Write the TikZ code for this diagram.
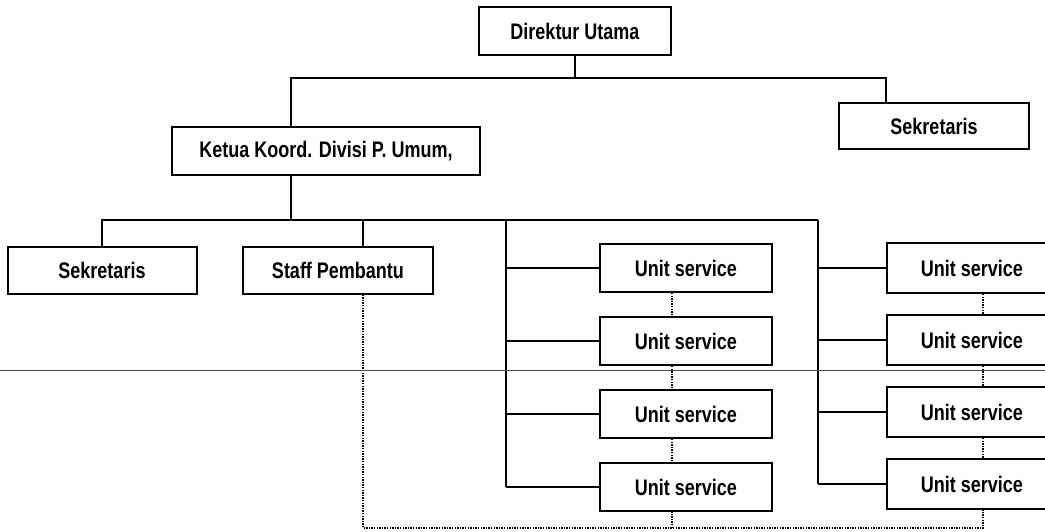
\documentclass[tikz,border=0pt]{standalone}
\usepackage{fontspec}
\setmainfont{Liberation Sans}[FakeStretch=0.80]
\usetikzlibrary{positioning}

\tikzset{
  box/.style    = {draw, line width=2pt, fill=white, inner sep=0pt,
                   font=\fontsize{22.5}{26}\selectfont\bfseries},
  unitbox/.style= {box, minimum width=172pt, minimum height=48pt},
  link/.style   = {line width=2pt},
  dotline/.style= {line width=1.8pt, dash pattern=on 1.4pt off 1.2pt},
  scanline/.style={line width=0.9pt, black!70}
}

\begin{document}
\begin{tikzpicture}[x=1pt, y=-1pt]
  \useasboundingbox (0,0) rectangle (1045,531);
  \clip (0,0) rectangle (1045,531);

  \node[box, minimum width=192pt, minimum height=48pt] (dir)   at (575,31)  {Direktur Utama};
  \node[box, minimum width=190pt, minimum height=46pt] (sekR)  at (934,126) {Sekretaris};
  \node[box, minimum width=308pt, minimum height=48pt] (ketua) at (326,151) {Ketua Koord. Divisi P. Umum,};
  \node[box, minimum width=189pt, minimum height=47pt] (sekL)  at (102,270) {Sekretaris};
  \node[box, minimum width=190pt, minimum height=47pt] (staff) at (338,270) {Staff Pembantu};

  % two columns of units
  \node[unitbox] (u1) at (686,268) {Unit service};
  \node[unitbox] (u2) [below = 23pt of u1] {Unit service};
  \node[unitbox] (u3) [below = 23pt of u2] {Unit service};
  \node[unitbox] (u4) [below = 23pt of u3] {Unit service};

  \node[unitbox, minimum width=170pt, minimum height=50pt] (v1) at (972,268) {Unit service};
  \node[unitbox, minimum width=170pt, minimum height=50pt] (v2) [below = 20pt of v1] {Unit service};
  \node[unitbox, minimum width=170pt, minimum height=50pt] (v3) [below = 20pt of v2] {Unit service};
  \node[unitbox, minimum width=170pt, minimum height=50pt] (v4) [below = 20pt of v3] {Unit service};

  \coordinate (top)  at (576,78);
  \coordinate (kx)   at (291,78);
  \coordinate (sx)   at (886,78);
  \coordinate (bus)  at (291,220);
  \coordinate (tapL) at (102,220);
  \coordinate (tapS) at (363,220);
  \coordinate (colL) at (506,220);
  \coordinate (colR) at (818,220);
  \coordinate (dotL) at (672,528);
  \coordinate (dotR) at (983,528);

  \draw[link] (dir.south |- top) -- (dir.south);
  \draw[link] (kx |- ketua.north) -- (kx) -- (sx) -- (sx |- sekR.north);
  \draw[link] (bus |- ketua.south) -- (bus);
  \draw[link] (tapL |- sekL.north) -- (tapL) -- (colR);
  \draw[link] (tapS) -- (tapS |- staff.north);
  \draw[link] (colL) -- (colL |- u4.west);
  \draw[link] (colR) -- (colR |- v4.west);

  \foreach \u in {u1,u2,u3,u4}
    \draw[link] (colL |- \u.west) -- (\u.west);
  \foreach \v in {v1,v2,v3,v4}
    \draw[link] (colR |- \v.west) -- (\v.west);

  % dotted coordination lines
  \foreach \a/\b in {u1/u2,u2/u3,u3/u4}
    \draw[dotline] (dotL |- \a.south) -- (dotL |- \b.north);
  \foreach \a/\b in {v1/v2,v2/v3,v3/v4}
    \draw[dotline] (dotR |- \a.south) -- (dotR |- \b.north);
  \draw[dotline] (tapS |- staff.south) |- (dotR) -- (dotR |- v4.south);
  \draw[dotline] (dotL) -- (dotL |- u4.south);

  \draw[scanline] (0,370) -- (1045,370);
\end{tikzpicture}
\end{document}
